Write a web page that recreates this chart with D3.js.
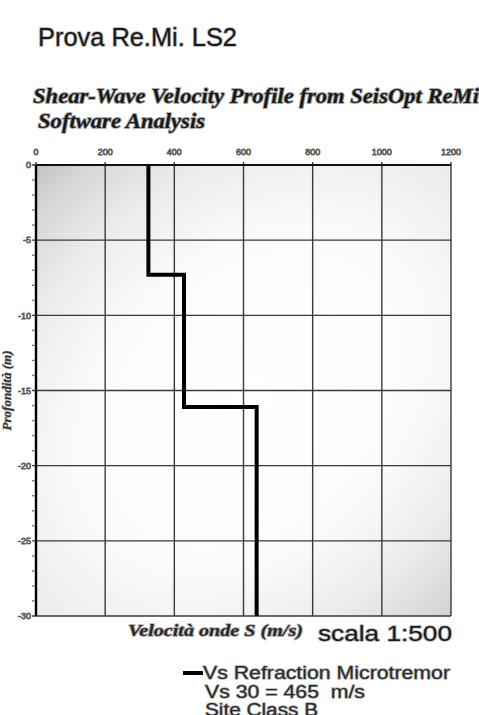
<!DOCTYPE html>
<html><head><meta charset="utf-8">
<script src="https://cdn.jsdelivr.net/npm/d3@7"></script>
<style>html,body{margin:0;padding:0;background:#fff;} text{white-space:pre;}</style>
</head><body>
<svg id="c" width="479" height="715"></svg>
<script>
const xTicks = [0, 200, 400, 600, 800, 1000, 1200];
const yTicks = [0, -5, -10, -15, -20, -25, -30];
const layerTop = [0, 7.3, 16.1];
const layerBottom = [7.3, 16.1, 30];
const layerVs = [325, 428, 638];
const legendLines = ["Vs Refraction Microtremor", "Vs 30 = 465  m/s", "Site Class B"];

const svg = d3.select("#c");
const L = 36, R = 451, T = 165, B = 616;
const x = d3.scaleLinear().domain([0, 1200]).range([L, R]);
const y = d3.scaleLinear().domain([0, -30]).range([T, B]);

const defs = svg.append("defs");
const gcx = L + 0.52 * (R - L), gcy = T + 0.52 * (B - T);
const g = defs.append("radialGradient").attr("id", "bg").attr("gradientUnits", "userSpaceOnUse")
  .attr("cx", 0).attr("cy", 0).attr("r", 1)
  .attr("gradientTransform", `translate(${gcx},${gcy}) rotate(-45) scale(430,315)`);
[[0, "#ffffff"], [0.45, "#fbfbfb"], [0.7, "#ececec"], [0.9, "#d6d6d6"], [1, "#c4c4c4"]].forEach(d =>
  g.append("stop").attr("offset", d[0]).attr("stop-color", d[1]));

const sans = "Liberation Sans, Arial, sans-serif";
const tf = "Liberation Serif, Times New Roman, serif";
function halo(sel, w, c) {
  return sel.attr("stroke", c || "#b5b5b5").attr("stroke-width", w).attr("paint-order", "stroke").attr("stroke-linejoin", "round");
}

// titles
halo(svg.append("text").attr("x", 38).attr("y", 46).attr("font-family", sans)
  .attr("font-size", 25).attr("fill", "#1a1a1a").attr("textLength", 199).attr("lengthAdjust", "spacingAndGlyphs")
  .text("Prova Re.Mi. LS2"), 1.6);
halo(svg.append("text").attr("x", 33).attr("y", 103).attr("font-family", tf).attr("font-weight", "bold")
  .attr("font-style", "italic").attr("font-size", 21).attr("fill", "#1a1a1a")
  .attr("textLength", 446).attr("lengthAdjust", "spacingAndGlyphs")
  .text("Shear-Wave Velocity Profile from SeisOpt ReMi"), 1.8, "#aaa");
halo(svg.append("text").attr("x", 38).attr("y", 128).attr("font-family", tf).attr("font-weight", "bold")
  .attr("font-style", "italic").attr("font-size", 21).attr("fill", "#1a1a1a")
  .attr("textLength", 167).attr("lengthAdjust", "spacingAndGlyphs")
  .text("Software Analysis"), 1.8, "#aaa");

// plot background
svg.append("rect").attr("x", L).attr("y", T).attr("width", R - L).attr("height", B - T).attr("fill", "url(#bg)");

// grid
svg.append("g").selectAll("line").data(xTicks).join("line")
  .attr("x1", d => x(d)).attr("x2", d => x(d)).attr("y1", T - 3).attr("y2", B)
  .attr("stroke", "#3a3a3a").attr("stroke-width", 1.4);
svg.append("g").selectAll("line").data(yTicks).join("line")
  .attr("x1", L - 4).attr("x2", R).attr("y1", d => y(d)).attr("y2", d => y(d))
  .attr("stroke", "#3a3a3a").attr("stroke-width", 1.4);
// minor y ticks
const minor = d3.range(0, -31, -1).filter(v => v % 5 !== 0);
svg.append("g").selectAll("line").data(minor).join("line")
  .attr("x1", L - 4).attr("x2", L - 1.5).attr("y1", d => y(d)).attr("y2", d => y(d))
  .attr("stroke", "#777").attr("stroke-width", 1.4);
// axes frame
svg.append("line").attr("x1", L).attr("x2", L).attr("y1", T).attr("y2", B).attr("stroke", "#000").attr("stroke-width", 2.4);
svg.append("line").attr("x1", L).attr("x2", R).attr("y1", T).attr("y2", T).attr("stroke", "#111").attr("stroke-width", 2);

// tick labels
const lab = (sel) => sel.attr("font-family", sans).attr("font-size", 9)
  .attr("fill", "#f4f4f4").attr("stroke", "#5a5a5a").attr("stroke-width", 0.8);
lab(svg.append("g").selectAll("text").data(xTicks).join("text")
  .attr("x", d => x(d)).attr("y", 155).attr("text-anchor", "middle").text(d => d));
lab(svg.append("g").selectAll("text").data(yTicks).join("text")
  .attr("x", 31).attr("y", d => y(d) + 3.2).attr("text-anchor", "end").text(d => d));

// profile
const pts = [];
layerVs.forEach((v, i) => { pts.push([v, -layerTop[i]]); pts.push([v, -layerBottom[i]]); });
svg.append("path").datum(pts).attr("fill", "none").attr("stroke", "#000").attr("stroke-width", 4)
  .attr("stroke-linejoin", "miter")
  .attr("d", d3.line().x(d => x(d[0])).y(d => y(d[1])));

// axis labels
halo(svg.append("text").attr("transform", `translate(11,${(T + B) / 2}) rotate(-90)`).attr("text-anchor", "middle")
  .attr("font-family", tf).attr("font-weight", "bold").attr("font-style", "italic").attr("font-size", 12.5)
  .attr("fill", "#333").attr("textLength", 80).attr("lengthAdjust", "spacingAndGlyphs").text("Profondità (m)"), 1, "#bbb");
halo(svg.append("text").attr("x", 128).attr("y", 636).attr("font-family", tf).attr("font-weight", "bold")
  .attr("font-style", "italic").attr("font-size", 17).attr("fill", "#2a2a2a")
  .attr("textLength", 175).attr("lengthAdjust", "spacingAndGlyphs")
  .text("Velocità onde S (m/s)"), 1.6, "#aaa");
halo(svg.append("text").attr("x", 318).attr("y", 641).attr("font-family", sans)
  .attr("font-size", 22).attr("fill", "#1a1a1a").attr("textLength", 134).attr("lengthAdjust", "spacingAndGlyphs")
  .text("scala 1:500"), 1.6);

// legend
svg.append("line").attr("x1", 183).attr("x2", 203).attr("y1", 673).attr("y2", 673).attr("stroke", "#000").attr("stroke-width", 4);
const legW = [247, 160, 113];
halo(svg.append("g").selectAll("text").data(legendLines).join("text")
  .attr("x", (d, i) => i === 0 ? 203 : 205).attr("y", (d, i) => 679 + i * 18.5)
  .attr("font-family", sans).attr("font-size", 18)
  .attr("textLength", (d, i) => legW[i]).attr("lengthAdjust", "spacingAndGlyphs")
  .attr("fill", "#2a2a2a")
  .text(d => d), 1.5);
</script>
</body></html>
